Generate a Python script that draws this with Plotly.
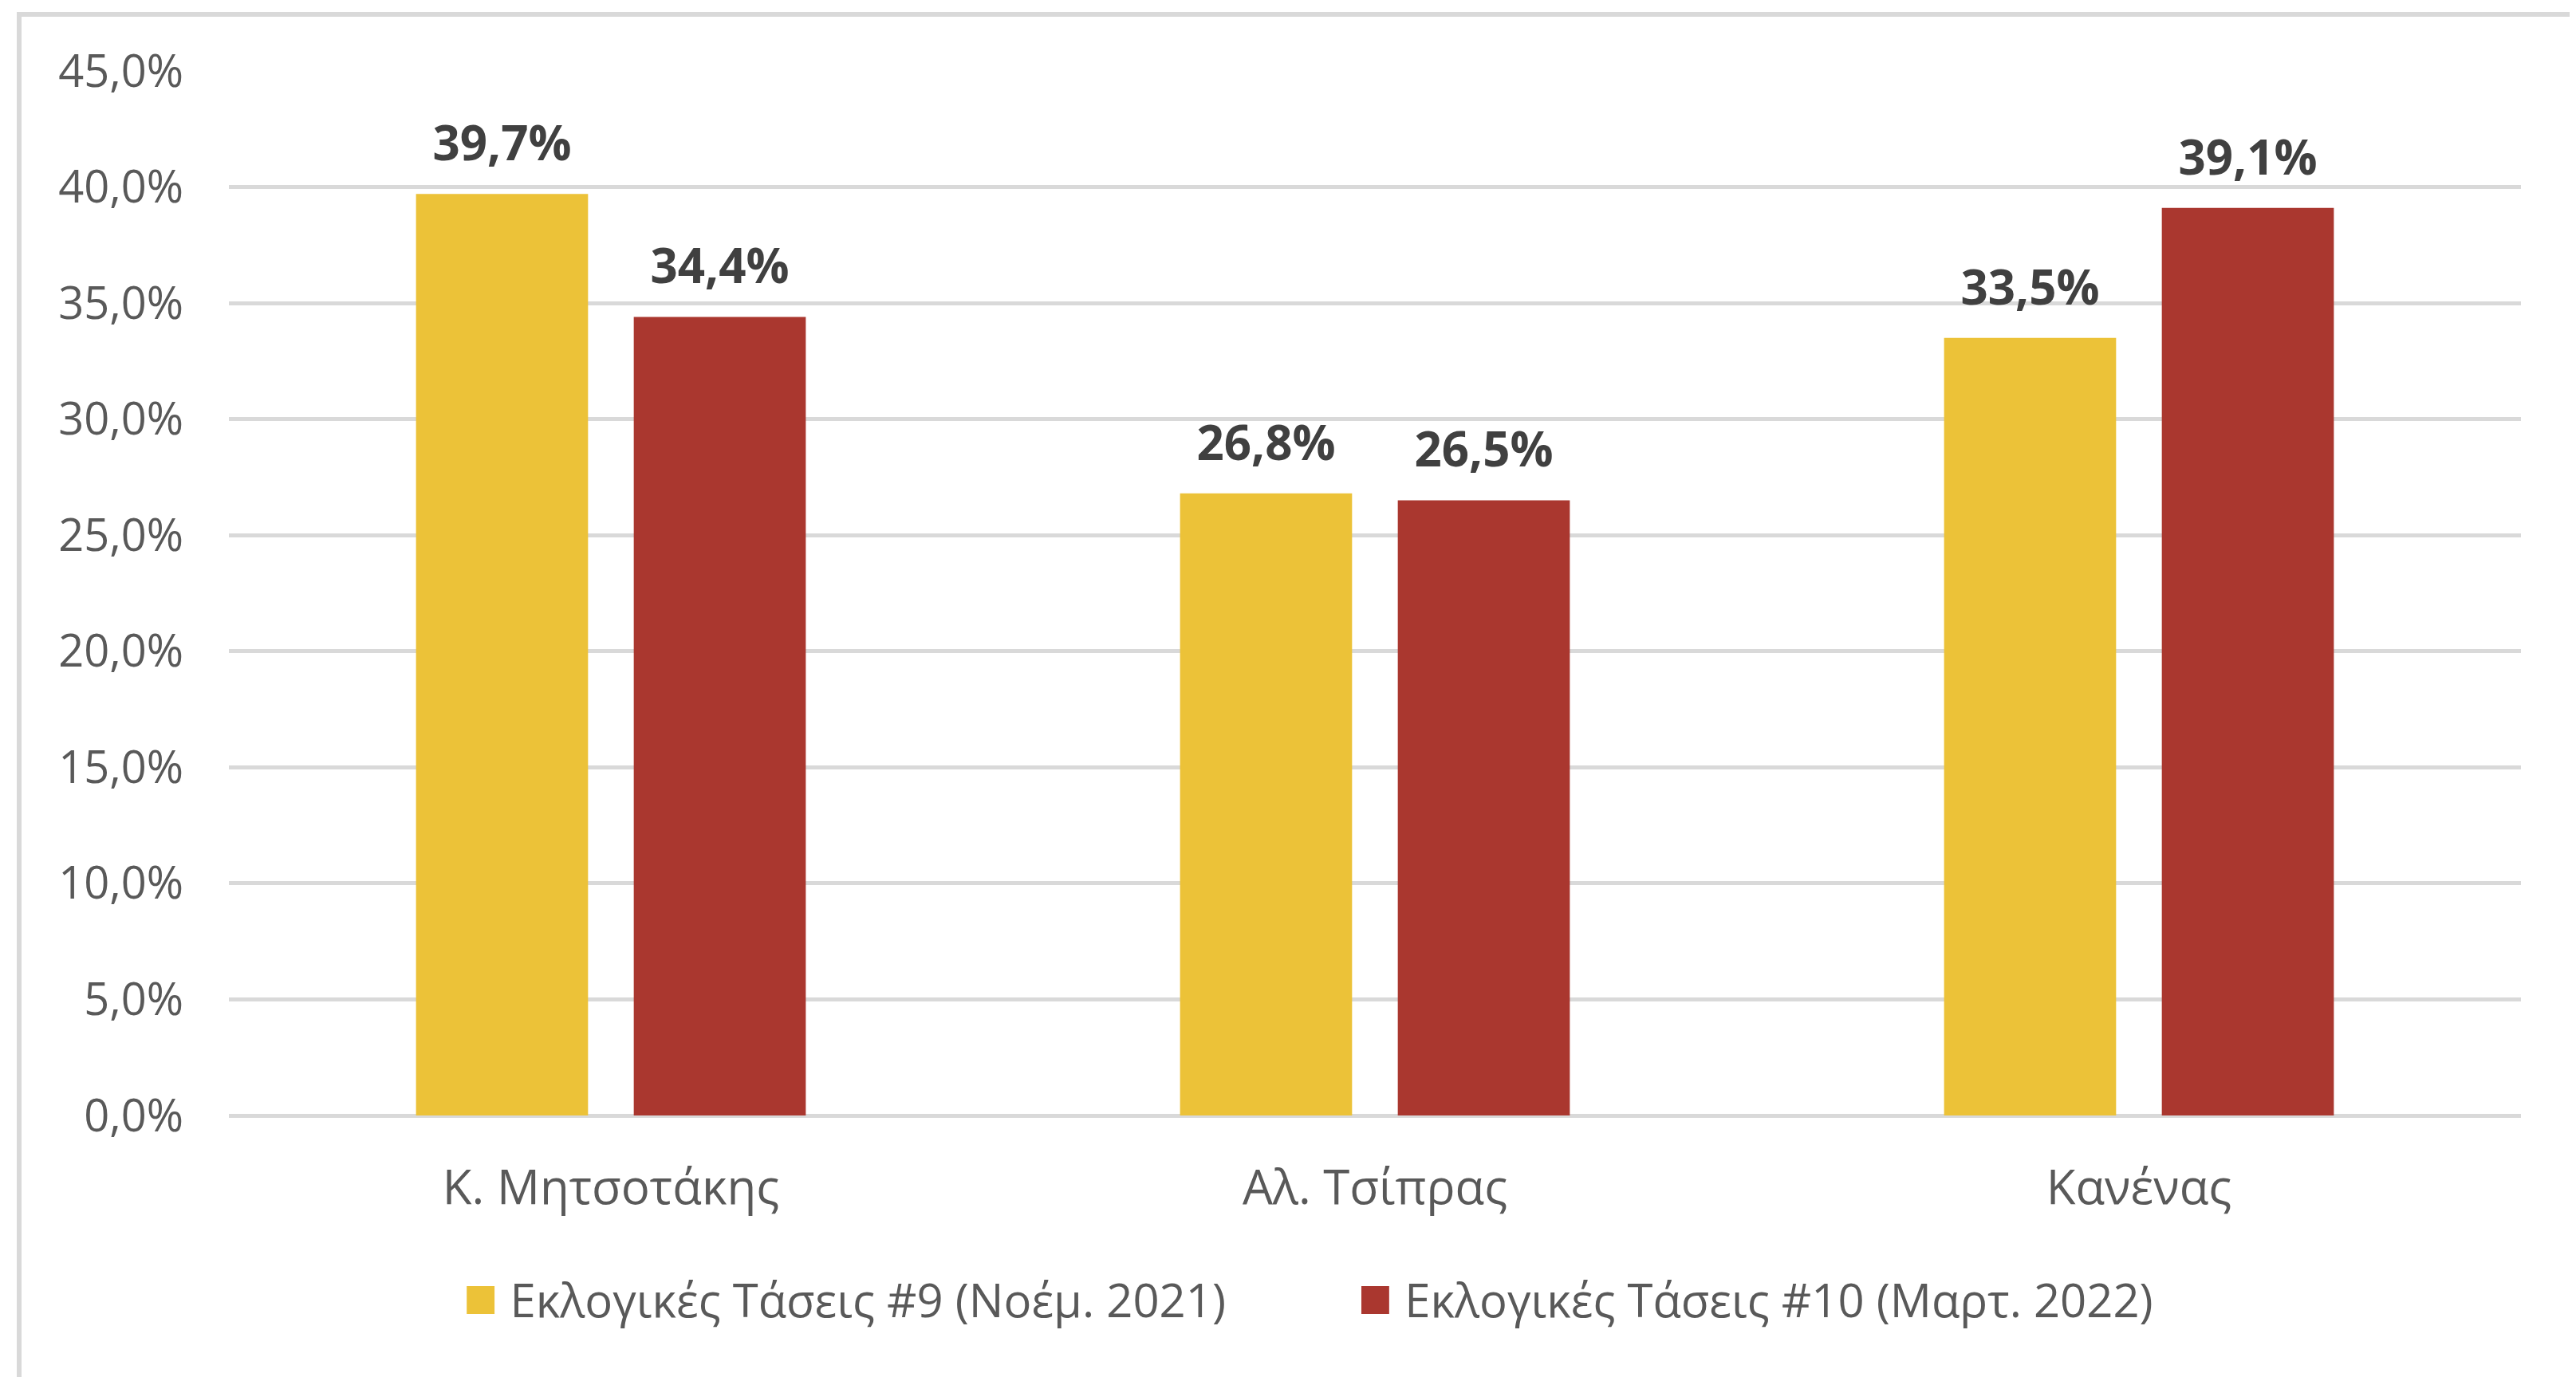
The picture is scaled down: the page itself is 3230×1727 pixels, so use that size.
import plotly.graph_objects as go

# data (values in percent)
categories = ["Κ. Μητσοτάκης", "Αλ. Τσίπρας", "Κανένας"]
series_names = ["Εκλογικές Τάσεις #9 (Νοέμ. 2021)", "Εκλογικές Τάσεις #10 (Μαρτ. 2022)"]
wave9 = [39.7, 26.8, 33.5]
wave10 = [34.4, 26.5, 39.1]
colors = ["#ECC238", "#AA372F"]

W, H = 3230, 1727
FONT = "Open Sans"
GRID = "#D9D9D9"
BARGAP = 0.43

fig = go.Figure()
for name, vals, col in zip(series_names, [wave9, wave10], colors):
    y = [v / 100 for v in vals]
    fig.add_trace(
        go.Bar(
            x=categories,
            y=y,
            name=name,
            marker=dict(color=col, line=dict(width=0)),
            showlegend=False,
        )
    )
    # value labels: invisible grouped markers so the text sits a bit above the bar
    fig.add_trace(
        go.Scatter(
            x=categories,
            y=y,
            mode="markers+text",
            marker=dict(size=42, opacity=0),
            text=[f"{v:.1f}%".replace(".", ",") for v in vals],
            textposition="top center",
            textfont=dict(family=FONT, size=60, color="#404040", weight="bold"),
            cliponaxis=False,
            showlegend=False,
            hoverinfo="skip",
        )
    )

# legend drawn as one centred line of text with coloured squares
legend_parts = [
    f'<span style="color:{c};font-size:72px">■</span>&nbsp;{n}' for n, c in zip(series_names, colors)
]
fig.add_annotation(
    text=("&nbsp;" * 11).join(legend_parts),
    xref="paper",
    yref="paper",
    x=0.471,
    y=-0.172,
    xanchor="center",
    yanchor="middle",
    showarrow=False,
    font=dict(family=FONT, size=58, color="#595959"),
)

# light grey frame round the whole chart
fig.add_shape(
    type="rect",
    xref="paper",
    yref="paper",
    x0=-0.0915,
    x1=1.2,
    y0=-0.5,
    y1=1.0542,
    line=dict(color=GRID, width=6),
    fillcolor="rgba(0,0,0,0)",
    layer="below",
)

fig.update_layout(
    width=W,
    height=H,
    barmode="group",
    bargap=BARGAP,
    bargroupgap=0.21,
    scattermode="group",
    scattergap=BARGAP,
    separators=",.",
    paper_bgcolor="white",
    plot_bgcolor="white",
    margin=dict(l=279, r=77, t=81, b=336, autoexpand=False),
    font=dict(family=FONT, size=56, color="#595959"),
)
fig.update_yaxes(
    range=[0, 0.45],
    dtick=0.05,
    tickformat=".1%",
    showgrid=True,
    gridcolor=GRID,
    gridwidth=5,
    zeroline=True,
    zerolinecolor=GRID,
    zerolinewidth=5,
    showline=False,
    ticklabelstandoff=56,
    tickfont=dict(family=FONT, size=56, color="#595959"),
)
fig.update_xaxes(
    showgrid=False,
    showline=False,
    ticklabelstandoff=50,
    tickfont=dict(family=FONT, size=60, color="#595959"),
)

fig.write_html("out.html")
